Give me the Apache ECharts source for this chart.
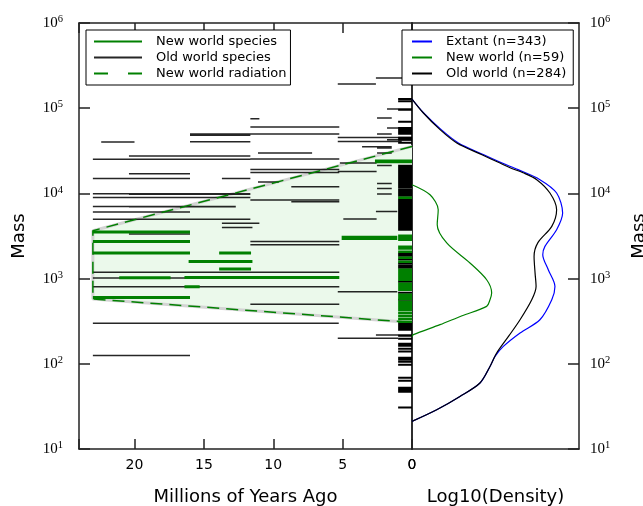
<!DOCTYPE html>
<html><head><meta charset="utf-8">
<script src="https://cdn.jsdelivr.net/npm/echarts@6/dist/echarts.min.js"></script>
<style>html,body{margin:0;padding:0;background:#fff}#c{width:643px;height:506px}</style>
</head><body><div id="c"></div>
<script>
// Fossil species ranges: [start (Ma), end (Ma), body mass]
const oldWorldSegments = [
  [2.6, 0, 226000], [5.35, 2.6, 192000], [1.8, 0, 98000], [2.52, 1.46, 76700],
  [11.65, 11.0, 75400], [11.65, 5.24, 60100], [1.8, 0, 58600], [11.65, 5.24, 49800],
  [16.0, 11.65, 49800], [16.0, 11.65, 48000], [2.52, 1.46, 49800], [5.35, 0, 45400],
  [1.8, 0, 42600], [5.35, 0.74, 40700], [22.4, 20.0, 40100], [16.0, 11.65, 40500],
  [3.6, 1.46, 35300], [2.52, 1.46, 34100], [11.1, 7.2, 29800], [2.52, 1.46, 29800],
  [20.4, 11.65, 27500], [23.0, 11.65, 25100], [11.65, 5.24, 25300], [5.2, 2.55, 22700],
  [2.52, 1.46, 21300], [11.65, 5.24, 19100], [5.35, 2.55, 18100], [11.65, 5.24, 17600],
  [20.4, 16.0, 17000], [23.0, 16.0, 15000], [13.7, 11.65, 15000], [11.1, 9.6, 13600],
  [2.52, 1.46, 13100], [8.7, 5.24, 12000], [2.52, 1.46, 11400], [23.0, 11.65, 9910],
  [20.4, 11.65, 9800], [2.52, 1.46, 9850], [23.0, 11.65, 8980], [11.65, 5.24, 8370],
  [8.7, 5.24, 8000], [23.0, 12.7, 7030], [20.4, 12.7, 6950], [2.6, 1.06, 6150],
  [23.0, 16.0, 6050], [4.95, 2.55, 5010], [23.0, 11.65, 4960], [13.7, 11.0, 4450],
  [13.7, 11.5, 3990], [20.4, 16.0, 3340], [11.65, 5.24, 2730], [11.65, 5.24, 2500],
  [23.0, 5.24, 1190], [23.0, 11.65, 1015], [23.0, 5.24, 803], [5.35, 1.06, 702],
  [11.65, 5.24, 501], [23.0, 5.28, 299], [2.6, 0, 218], [5.35, 1.0, 199], [23.0, 16.0, 125]
];
const newWorldSegments = [
  [2.67, 0, 24000], [2.67, 0, 23500], [23.0, 16.0, 3520], [5.07, 1.06, 3050],
  [5.07, 1.06, 2950], [23.0, 16.0, 2730], [23.0, 16.0, 1995], [13.9, 11.6, 1995],
  [16.1, 11.5, 1590], [13.9, 11.6, 1300], [16.4, 5.24, 1030], [21.1, 17.4, 1024],
  [16.4, 15.3, 803], [23.0, 16.0, 601]
];
// Extant species (short ticks near present)
const extantStartMa = 1.0;
const rugOldWorldMass = [
  127900, 121000, 95900, 69400, 58600, 56000, 53000, 50200, 45100, 42700, 39400,
  21100, 20000, 19000, 18000, 17000, 16500, 16100, 15300, 14900, 14500, 13700, 13000,
  12300, 11700, 11060, 10470, 9910, 9400, 8430, 8000, 7570, 7170, 6790, 6440, 6100,
  5780, 5470, 5190, 4910, 4650, 4410, 4180, 3960, 3750, 1960, 1860, 1670, 1500, 1420,
  1340, 920, 683, 565, 295, 280, 265, 251, 214, 197, 172, 163, 150, 139, 118, 112,
  106, 97.6, 68.7, 63.4, 52.4, 49.6, 47.1, 30.8
];
const rugNewWorldMass = [
  8900, 3190, 3020, 2860, 2370, 2250, 2070, 1760, 1580, 1270, 1210, 1140, 1080, 1030,
  971, 871, 826, 782, 741, 647, 613, 581, 536, 508, 481, 456, 432, 398, 367, 339, 312
];
// New world radiation envelope
const radiationMa = [0, 23, 23, 0];
const radiationMass = [35600, 3650, 577, 306];
// Density curves (x: log10 density, arbitrary units; y: mass)
const extantMass = [128000, 87900, 56000, 39100, 28400, 22700, 19000, 14500, 10100, 5890, 3750, 2390, 1910, 1270, 810, 565, 329, 230, 160, 122, 93, 59.5, 41.4, 28.9, 21.1];
const extantDens = [0, 0.7, 1.75, 2.78, 4.3, 5.4, 6.35, 7.66, 8.66, 9.02, 8.66, 7.96, 7.83, 8.16, 8.56, 8.37, 7.66, 6.47, 5.47, 4.97, 4.67, 4.07, 2.87, 1.48, 0];
const newWorldMass = [12650, 9640, 6440, 4300, 2620, 1525, 970, 678, 565, 472, 367, 288, 220, 208];
const newWorldDens = [0, 1.08, 1.57, 1.51, 2.08, 3.47, 4.47, 4.77, 4.67, 4.47, 3.0, 1.68, 0.08, 0];
const oldWorldMass = [128000, 87900, 56000, 39100, 28400, 22700, 20000, 17500, 14500, 10100, 6440, 4100, 2640, 1820, 1160, 810, 565, 329, 214, 134, 93, 59.5, 41.4, 28.9, 21.1];
const oldWorldDens = [0, 0.68, 1.68, 2.68, 4.19, 5.27, 5.87, 6.65, 7.47, 8.26, 8.66, 8.37, 7.54, 7.31, 7.37, 7.43, 7.17, 6.47, 5.81, 5.07, 4.67, 4.07, 2.87, 1.48, 0];

const xTicks = [0, 5, 10, 15, 20];

function segData(segs) {
  const out = [];
  segs.forEach(s => { out.push([s[0], s[2]], [s[1], s[2]], [NaN, NaN]); });
  return out;
}
function rugData(masses) {
  const out = [];
  masses.forEach(m => { out.push([extantStartMa, m], [0, m], [NaN, NaN]); });
  return out;
}
const radiationLine = radiationMa.map((m, i) => [m, radiationMass[i]]);
const pairs = (d, m) => d.map((v, i) => [v, m[i]]);

const FONT = 'DejaVu Sans';
const spine = {show: true, onZero: false, lineStyle: {color: '#222', width: 1.5}};
const yRich = {
  b: {fontFamily: 'Liberation Serif', fontSize: 15, color: '#000', lineHeight: 18},
  s: {fontFamily: 'Liberation Serif', fontSize: 10.5, color: '#000', verticalAlign: 'top'}
};
const yFmt = v => '{b|10}{s|' + Math.round(Math.log10(v)) + '}';
const logAxis = (grid, pos, extra) => Object.assign({
  gridIndex: grid, type: 'log', logBase: 10, min: 10, max: 1000000, position: pos,
  axisLine: spine, splitLine: {show: false}, axisTick: {show: false}, axisLabel: {show: false}
}, extra);
const legendText = {fontSize: 13, fontFamily: FONT, color: '#000', padding: [0, 0, 0, 9]};

const chart = echarts.init(document.getElementById('c'));
chart.setOption({
  animation: false,
  backgroundColor: '#fff',
  grid: [
    {left: 79, top: 23, width: 333, height: 426, containLabel: false, outerBoundsMode: 'none'},
    {left: 412, top: 23, width: 167, height: 426, containLabel: false, outerBoundsMode: 'none'}
  ],
  xAxis: [
    {gridIndex: 0, type: 'value', min: 0, max: 24, interval: 5, inverse: true, position: 'bottom',
     axisLine: spine, splitLine: {show: false},
     axisTick: {show: true, inside: true, length: 10, lineStyle: {color: '#222', width: 1.5}},
     axisLabel: {margin: 9, fontSize: 14, fontFamily: FONT, color: '#000',
       formatter: v => xTicks.indexOf(v) >= 0 ? String(v) : ''},
     name: 'Millions of Years Ago', nameLocation: 'middle', nameGap: 39,
     nameTextStyle: {fontSize: 18, fontFamily: FONT, color: '#000'}},
    {gridIndex: 0, type: 'value', min: 0, max: 24, interval: 5, inverse: true, position: 'top',
     axisLine: spine, splitLine: {show: false},
     axisTick: {show: true, inside: true, length: 10, lineStyle: {color: '#222', width: 1.5}},
     axisLabel: {show: false}},
    {gridIndex: 1, type: 'value', min: 0, max: 10, interval: 10, position: 'bottom',
     axisLine: spine, splitLine: {show: false}, axisTick: {show: false},
     axisLabel: {margin: 9, fontSize: 14, fontFamily: FONT, color: '#000', formatter: v => v === 0 ? '0' : ''},
     name: 'Log10(Density)', nameLocation: 'middle', nameGap: 39,
     nameTextStyle: {fontSize: 18, fontFamily: FONT, color: '#000'}},
    {gridIndex: 1, type: 'value', min: 0, max: 10, position: 'top',
     axisLine: spine, splitLine: {show: false}, axisTick: {show: false}, axisLabel: {show: false}}
  ],
  yAxis: [
    logAxis(0, 'left', {
      axisTick: {show: true, inside: true, length: 11, lineStyle: {color: '#222', width: 1.5}},
      axisLabel: {show: true, margin: 16, formatter: yFmt, rich: yRich},
      name: 'Mass', nameLocation: 'middle', nameGap: 51,
      nameTextStyle: {fontSize: 18, fontFamily: FONT, color: '#000'}}),
    logAxis(0, 'right', {}),
    logAxis(1, 'left', {}),
    logAxis(1, 'right', {
      axisTick: {show: true, inside: true, length: 11, lineStyle: {color: '#222', width: 1.5}},
      axisLabel: {show: true, margin: 11, formatter: yFmt, rich: yRich},
      name: 'Mass', nameLocation: 'middle', nameGap: 51,
      nameTextStyle: {fontSize: 18, fontFamily: FONT, color: '#000'}})
  ],
  legend: [
    {data: ['New world species', 'Old world species',
            {name: 'New world radiation', lineStyle: {type: [14, 20]}}],
     orient: 'vertical', left: 86, top: 30, itemWidth: 48, itemHeight: 14, itemGap: 3,
     padding: [5, 4, 5, 7], borderColor: '#000', borderWidth: 1, backgroundColor: '#fff',
     textStyle: legendText, itemStyle: {opacity: 0}, z: 20, selectedMode: false},
    {data: ['Extant (n=343)', 'New world (n=59)', 'Old world (n=284)'],
     orient: 'vertical', left: 402, top: 30, itemWidth: 20, itemHeight: 14, itemGap: 3,
     padding: [5, 7, 5, 9], borderColor: '#000', borderWidth: 1, backgroundColor: '#fff',
     textStyle: legendText, itemStyle: {opacity: 0}, z: 20, selectedMode: false}
  ],
  series: [
    {type: 'custom', name: 'radiationFill', xAxisIndex: 0, yAxisIndex: 0, silent: true, z: 1,
     data: [[10, 1000]], encode: {x: 0, y: 1},
     renderItem: (params, api) => ({
       type: 'polygon',
       shape: {points: radiationMa.map((m, i) => api.coord([m, radiationMass[i]]))},
       style: {fill: '#ebf9eb'}
     })},
    {type: 'line', name: 'radiationEdge', xAxisIndex: 0, yAxisIndex: 0, silent: true, z: 2,
     symbol: 'none', data: radiationLine, lineStyle: {color: '#d4d4d4', width: 3}},
    {type: 'line', name: 'Old world species', xAxisIndex: 0, yAxisIndex: 0, z: 3,
     symbol: 'none', data: segData(oldWorldSegments),
     itemStyle: {color: '#000'}, lineStyle: {color: 'rgba(0,0,0,0.85)', width: 1.5}},
    {type: 'line', name: 'oldWorldExtant', xAxisIndex: 0, yAxisIndex: 0, z: 3, silent: true,
     symbol: 'none', data: rugData(rugOldWorldMass),
     lineStyle: {color: '#000', width: 2}},
    {type: 'line', name: 'New world species', xAxisIndex: 0, yAxisIndex: 0, z: 4,
     symbol: 'none', data: segData(newWorldSegments),
     itemStyle: {color: '#008000'}, lineStyle: {color: '#008000', width: 3}},
    {type: 'line', name: 'newWorldExtant', xAxisIndex: 0, yAxisIndex: 0, z: 4, silent: true,
     symbol: 'none', data: rugData(rugNewWorldMass),
     lineStyle: {color: '#008000', width: 2.5}},
    {type: 'line', name: 'New world radiation', xAxisIndex: 0, yAxisIndex: 0, z: 5,
     symbol: 'none', data: radiationLine,
     itemStyle: {color: '#008000'}, lineStyle: {color: '#008000', width: 1.5, type: [12, 7]}},
    {type: 'line', name: 'Extant (n=343)', xAxisIndex: 2, yAxisIndex: 3, z: 3,
     symbol: 'none', smooth: 0.3, data: pairs(extantDens, extantMass),
     itemStyle: {color: '#0000ff'}, lineStyle: {color: '#0000ff', width: 1.2}},
    {type: 'line', name: 'New world (n=59)', xAxisIndex: 2, yAxisIndex: 3, z: 3,
     symbol: 'none', smooth: 0.3, data: pairs(newWorldDens, newWorldMass),
     itemStyle: {color: '#008000'}, lineStyle: {color: '#008000', width: 1.2}},
    {type: 'line', name: 'Old world (n=284)', xAxisIndex: 2, yAxisIndex: 3, z: 4,
     symbol: 'none', smooth: 0.3, data: pairs(oldWorldDens, oldWorldMass),
     itemStyle: {color: '#000'}, lineStyle: {color: '#000', width: 1.2}}
  ]
});
</script></body></html>
